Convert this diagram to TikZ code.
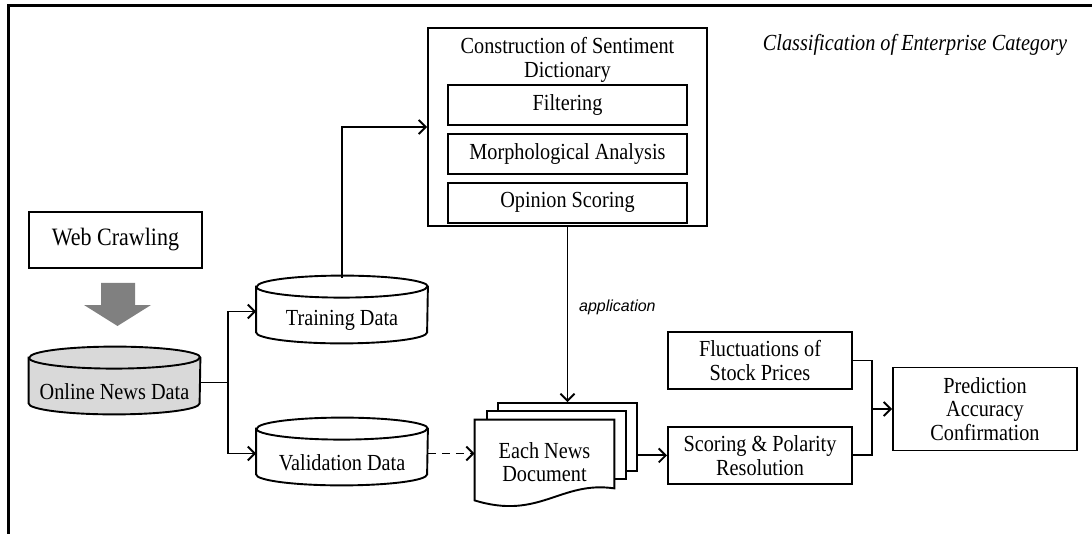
\documentclass[tikz,border=0pt]{standalone}
\usepackage{fontspec}
\setmainfont[FakeStretch=0.88]{Liberation Serif}
\setsansfont{Liberation Sans}
\usetikzlibrary{positioning,arrows.meta,backgrounds}
\tikzstyle{line} = [draw,line width=0.95pt]
\tikzstyle{txt} = [font=\fontsize{11.5}{11.8}\selectfont,align=center,inner sep=0pt]
\tikzstyle{box} = [txt,draw,line width=0.95pt]
\tikzstyle{subbox} = [box,minimum width=119.5pt,minimum height=20pt]
\tikzstyle{sidebox} = [box,minimum width=92pt,minimum height=28.5pt]
\tikzstyle{db} = [txt,minimum width=85.5pt,minimum height=22.5pt]
\tikzstyle{page} = [line,fill=white,minimum width=69.5pt,minimum height=34pt]
% database cylinder round a db node
\newcommand\dbdraw[2]{%
  \path[line,fill=#2] ([yshift=5.5pt]#1.north west) -- ([yshift=5.5pt]#1.south west)
    arc[start angle=180,end angle=360,x radius=42.75pt,y radius=5.5pt]
    -- ([yshift=5.5pt]#1.north east)
    arc[start angle=0,end angle=180,x radius=42.75pt,y radius=5.5pt] -- cycle;
  \path[line] ([yshift=5.5pt]#1.north west)
    arc[start angle=180,end angle=360,x radius=42.75pt,y radius=5.5pt];}
\begin{document}
\begin{tikzpicture}[x=0.5pt,y=-0.5pt,>={Straight Barb[length=3.5pt,width=7pt]}]
  \useasboundingbox (0,0) rectangle (1092,534);
  \draw[line width=1.5pt] (1092,6) -- (8,6) -- (8,534);
  \node[txt,font=\fontsize{11.5}{11.8}\selectfont\itshape] (cat) at (915,45) {Classification of Enterprise Category};

  % left part
  \node[box,minimum width=86.5pt,minimum height=28pt,font=\fontsize{12.5}{13}\selectfont] (crawl) at (115.5,240) {Web Crawling};
  \fill[gray] (101,283) -- (135,283) -- (135,305) -- (151,305) -- (117.5,326) -- (84,305) -- (101,305) -- cycle;
  \node[db] (online) at (114.5,391.5) {Online News Data};
  \node[db] (train) at (342,320.5) {Training Data};
  \node[db] (valid) at (342,462.5) {Validation Data};
  \begin{scope}[on background layer,yshift=-1pt]
    \dbdraw{online}{gray!30}
    \dbdraw{train}{white}
    \dbdraw{valid}{white}
  \end{scope}
  \path[line,->] ([yshift=4.5pt]online.east) -- ++(28,0) |- ([yshift=4.5pt]train.west);
  \path[line,->] ([yshift=4.5pt]online.east) -- ++(28,0) |- ([yshift=4.5pt]valid.west);

  % sentiment dictionary
  \node[box,minimum width=139.5pt,minimum height=99pt] (constr) at (567.5,127) {};
  \node[txt] (ctitle) at (567.5,60) {Construction of Sentiment\\Dictionary};
  \node[subbox] (filter) at (567.5,105) {Filtering};
  \node[subbox,below=3.5pt of filter] (morph) {Morphological Analysis};
  \node[subbox,below=3.5pt of morph] (opinion) {Opinion Scoring};
  \path[line,->] ([yshift=10pt]train.north) |- (constr.west);

  % news documents
  \node[txt,minimum width=69.5pt,minimum height=42pt] (doc) at (544.5,462) {Each News\\Document};
  \begin{scope}[on background layer]
    \node[page] (docback) at (567.5,437) {};
    \node[page] (docmid) at (556.5,445) {};
    \path[line,fill=white] (doc.north west) -- (doc.north east) -- ([yshift=8pt]doc.south east)
      .. controls +(-54,-8) and +(65,20) .. ([yshift=2pt]doc.south west) -- cycle;
  \end{scope}
  \path[line,->] (constr.south) -- node[right=2pt,pos=0.46,font=\sffamily\itshape\fontsize{8}{9}\selectfont] {application} (docback.north);
  \coordinate (vd) at ([yshift=4.5pt]valid.east);
  \path[line,dash pattern=on 4pt off 3pt,->] (vd) -- (vd -| doc.west);

  % right part
  \node[sidebox] (fluct) at (760,360.5) {Fluctuations of\\Stock Prices};
  \node[sidebox,below=18pt of fluct] (score) {Scoring \& Polarity\\Resolution};
  \node[box,minimum width=92pt,minimum height=41.5pt] (pred) at (985,409) {Prediction\\Accuracy\\Confirmation};
  \path[line,->] (docback.east |- score.west) -- (score.west);
  \coordinate (mrg) at ([xshift=-10pt]pred.west);
  \path[line] (fluct.east) -| (mrg) |- (score.east);
  \path[line,->] (mrg) -- (pred.west);
\end{tikzpicture}
\end{document}
